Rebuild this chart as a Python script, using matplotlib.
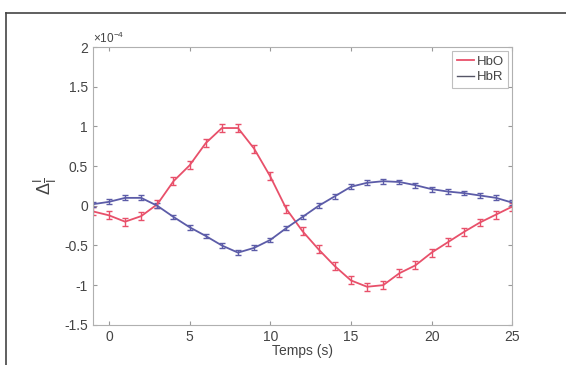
import matplotlib.pyplot as plt
from matplotlib.lines import Line2D
from matplotlib.ticker import FuncFormatter
import numpy as np

plt.rcParams["font.family"] = ["Liberation Sans", "DejaVu Sans"]
plt.rcParams["mathtext.fontset"] = "custom"
plt.rcParams["mathtext.rm"] = "Liberation Sans"
plt.rcParams["mathtext.it"] = "Liberation Sans"

# temps (s) et variations (x 1e-4)
temps = [-1, 0, 1, 2, 3, 4, 5, 6, 7, 8, 9, 10, 11, 12, 13, 14, 15, 16, 17, 18,
         19, 20, 21, 22, 23, 24, 25]
hbo = [-0.07, -0.12, -0.20, -0.13, 0.02, 0.31, 0.51, 0.79, 0.98, 0.98, 0.72,
       0.37, -0.04, -0.32, -0.55, -0.76, -0.94, -1.02, -1.00, -0.85, -0.75,
       -0.59, -0.46, -0.33, -0.21, -0.11, -0.01]
hbr = [0.02, 0.05, 0.10, 0.10, 0.00, -0.14, -0.27, -0.38, -0.50, -0.59, -0.53,
       -0.43, -0.28, -0.14, 0.00, 0.12, 0.24, 0.29, 0.31, 0.30, 0.26, 0.21,
       0.18, 0.16, 0.13, 0.10, 0.04]
err_hbo = 0.05
err_hbr = 0.03
scale = 1e-4

RED = "#e8506a"
BLUE = "#5c5ca8"
TXT = "#444444"

fig = plt.figure(figsize=(5.66, 3.65), dpi=100)
ax = fig.add_axes([0.164, 0.110, 0.741, 0.761])

t = np.array(temps)
ax.errorbar(t, np.array(hbo) * scale, yerr=err_hbo * scale, color=RED, lw=1.3,
            elinewidth=1.0, capsize=2.5)
ax.errorbar(t, np.array(hbr) * scale, yerr=err_hbr * scale, color=BLUE, lw=1.3,
            elinewidth=1.0, capsize=2.5)

ax.set_xlim(-1, 25)
ax.set_ylim(-1.5e-4, 2e-4)
ax.set_xticks([0, 5, 10, 15, 20, 25])
ax.set_yticks(np.arange(-1.5, 2.01, 0.5) * scale)
ax.yaxis.set_major_formatter(FuncFormatter(lambda v, p: "%g" % round(v / scale, 2)))
ax.tick_params(direction="in", length=3, top=True, right=True, labelsize=10,
               colors="#999999", labelcolor=TXT)
for s in ax.spines.values():
    s.set_color("#b0b0b0")

ax.text(0.0, 1.005, r"$\times10^{-4}$", transform=ax.transAxes, fontsize=8.5,
        color=TXT, va="bottom", ha="left")
ax.set_xlabel("Temps (s)", fontsize=10, color=TXT, labelpad=0)
ax.set_ylabel(r"$\Delta\frac{I}{I}$", fontsize=13, color=TXT, labelpad=4)

handles = [Line2D([], [], color=RED, lw=1.3), Line2D([], [], color="#555566", lw=1.0)]
leg = ax.legend(handles, ["HbO", "HbR"], loc="upper right", fontsize=9.5,
                frameon=True, fancybox=False, handlelength=1.3, borderpad=0.35,
                labelspacing=0.25, handletextpad=0.2, borderaxespad=0.3)
leg.get_frame().set_edgecolor("#b0b0b0")
leg.get_frame().set_linewidth(0.8)
for txt in leg.get_texts():
    txt.set_color(TXT)

# cadre de la capture (haut et gauche)
fig.add_artist(Line2D([0.011, 1.0], [0.965, 0.965], color="#444444", lw=1.2))
fig.add_artist(Line2D([0.011, 0.011], [0.0, 0.965], color="#444444", lw=1.2))

fig.savefig("out.png", dpi=100)
